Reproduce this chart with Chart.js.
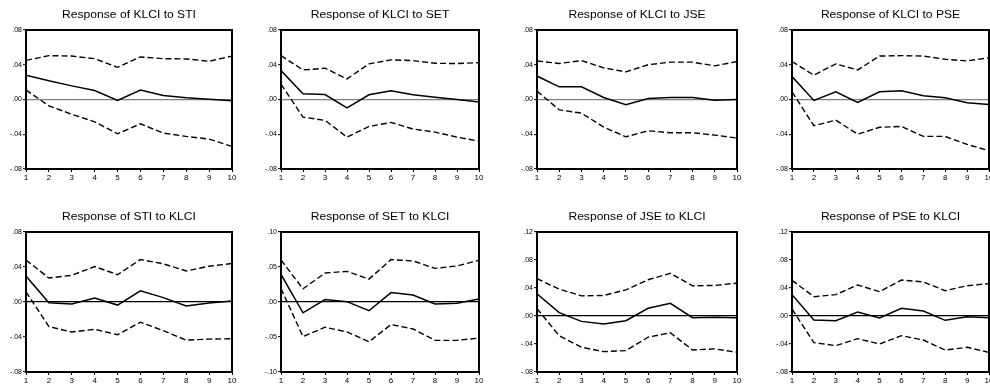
<!DOCTYPE html>
<html>
<head>
<meta charset="utf-8">
<script src="https://cdn.jsdelivr.net/npm/chart.js@4"></script>
<style>
    html, body { margin: 0; padding: 0; background: #fff; overflow: hidden; width: 990px; height: 387px; position: relative; }
    canvas { position: absolute; }
</style>
</head>
<body>
<script>
// horizon (periods after the shock)
const periods = [1, 2, 3, 4, 5, 6, 7, 8, 9, 10];

// impulse responses: point estimate, upper and lower +/- 2 S.E. bands
const klciStiResp = [0.028, 0.0215, 0.0157, 0.0103, -0.001, 0.011, 0.0046, 0.002, 0.0004, -0.0015];
const klciStiHi   = [0.045, 0.0505, 0.050, 0.047, 0.037, 0.049, 0.047, 0.0467, 0.044, 0.050];
const klciStiLo   = [0.011, -0.0073, -0.017, -0.0257, -0.0395, -0.028, -0.0387, -0.0425, -0.0456, -0.054];

const klciSetResp = [0.0333, 0.0065, 0.0057, -0.0096, 0.0054, 0.010, 0.0054, 0.0027, 0.0, -0.003];
const klciSetHi   = [0.0505, 0.034, 0.036, 0.0237, 0.041, 0.0456, 0.0448, 0.0417, 0.0414, 0.0425];
const klciSetLo   = [0.0176, -0.0203, -0.024, -0.0433, -0.031, -0.0264, -0.034, -0.0375, -0.0433, -0.048];

const klciJseResp = [0.027, 0.0146, 0.0146, 0.0023, -0.006, 0.0011, 0.0023, 0.0023, -0.0008, 0.0];
const klciJseHi   = [0.0444, 0.0414, 0.0448, 0.0364, 0.0318, 0.040, 0.043, 0.043, 0.0387, 0.0437];
const klciJseLo   = [0.0096, -0.0119, -0.0157, -0.0318, -0.0429, -0.036, -0.0383, -0.0383, -0.041, -0.0444];

const klciPseResp = [0.0264, -0.0011, 0.0088, -0.0034, 0.0088, 0.010, 0.0042, 0.0019, -0.0038, -0.0057];
const klciPseHi   = [0.0437, 0.028, 0.041, 0.034, 0.050, 0.0505, 0.050, 0.0463, 0.0444, 0.048];
const klciPseLo   = [0.0088, -0.0302, -0.0237, -0.040, -0.032, -0.031, -0.0425, -0.0425, -0.0517, -0.059];

const stiKlciResp = [0.0297, -0.0008, -0.0023, 0.0046, -0.0035, 0.0127, 0.005, -0.0046, -0.0012, 0.0012];
const stiKlciHi   = [0.048, 0.0274, 0.0305, 0.0405, 0.0312, 0.0486, 0.0436, 0.0355, 0.0409, 0.044];
const stiKlciLo   = [0.0116, -0.0281, -0.0343, -0.0312, -0.0374, -0.0231, -0.0328, -0.0436, -0.0424, -0.042];

const setKlciResp = [0.0394, -0.0154, 0.0034, 0.0005, -0.0125, 0.0135, 0.010, -0.0029, -0.0019, 0.0043];
const setKlciHi   = [0.060, 0.0188, 0.0414, 0.0438, 0.0327, 0.0606, 0.0587, 0.048, 0.0515, 0.0596];
const setKlciLo   = [0.0192, -0.0495, -0.036, -0.0428, -0.0568, -0.0322, -0.0385, -0.0548, -0.0548, -0.0515];

const jseKlciResp = [0.0317, 0.0048, -0.0077, -0.0115, -0.0067, 0.011, 0.0182, -0.0024, -0.0019, -0.0024];
const jseKlciHi   = [0.0533, 0.0384, 0.0288, 0.0293, 0.0374, 0.0518, 0.061, 0.0432, 0.0437, 0.047];
const jseKlciLo   = [0.0106, -0.0283, -0.0446, -0.0509, -0.0494, -0.0302, -0.024, -0.0485, -0.047, -0.0518];

const pseKlciResp = [0.0305, -0.0057, -0.0067, 0.0057, -0.0029, 0.011, 0.0071, -0.0062, -0.001, -0.0024];
const pseKlciHi   = [0.051, 0.0276, 0.0305, 0.0443, 0.0348, 0.0514, 0.0486, 0.0362, 0.0433, 0.0462];
const pseKlciLo   = [0.010, -0.038, -0.0424, -0.0324, -0.040, -0.0281, -0.0343, -0.0486, -0.0447, -0.052];

// y axis ranges (min, max, step) per panel
const yRanges = [
    [-0.08, 0.08, 0.04], [-0.08, 0.08, 0.04], [-0.08, 0.08, 0.04], [-0.08, 0.08, 0.04],
    [-0.08, 0.08, 0.04], [-0.10, 0.10, 0.05], [-0.08, 0.12, 0.04], [-0.08, 0.12, 0.04]
];

const panels = [
    { title: 'Response of KLCI to STI', resp: klciStiResp, hi: klciStiHi, lo: klciStiLo, box: [26, 30, 232, 169], row: 0 },
    { title: 'Response of KLCI to SET', resp: klciSetResp, hi: klciSetHi, lo: klciSetLo, box: [281, 30, 479, 169], row: 0 },
    { title: 'Response of KLCI to JSE', resp: klciJseResp, hi: klciJseHi, lo: klciJseLo, box: [537, 30, 737, 169], row: 0 },
    { title: 'Response of KLCI to PSE', resp: klciPseResp, hi: klciPseHi, lo: klciPseLo, box: [792, 30, 989, 169], row: 0 },
    { title: 'Response of STI to KLCI', resp: stiKlciResp, hi: stiKlciHi, lo: stiKlciLo, box: [26, 232, 232, 372], row: 1 },
    { title: 'Response of SET to KLCI', resp: setKlciResp, hi: setKlciHi, lo: setKlciLo, box: [281, 232, 479, 372], row: 1 },
    { title: 'Response of JSE to KLCI', resp: jseKlciResp, hi: jseKlciHi, lo: jseKlciLo, box: [537, 232, 737, 372], row: 1 },
    { title: 'Response of PSE to KLCI', resp: pseKlciResp, hi: pseKlciHi, lo: pseKlciLo, box: [792, 232, 989, 372], row: 1 }
];

const rows = [
    { top: 0, height: 190, titleY: 15, zeroColor: '#808080' },
    { top: 190, height: 197, titleY: 27, zeroColor: '#000000' }
];

const FONT = '"Liberation Sans", Arial, sans-serif';
const Y_AXIS_W = 35;
const RIGHT_PAD = 6;

// draws the panel title and the box round the plot area
const panelDecor = {
    id: 'panelDecor',
    afterDatasetsDraw(chart, args, opts) {
        const a = chart.chartArea;
        const ctx = chart.ctx;
        ctx.save();
        ctx.strokeStyle = '#000';
        ctx.lineWidth = 2;
        ctx.strokeRect(a.left, a.top, a.right - a.left, a.bottom - a.top);
        ctx.fillStyle = '#000';
        ctx.font = '11px ' + FONT;
        ctx.textAlign = 'center';
        ctx.textBaseline = 'middle';
        const cx = (a.left + a.right) / 2;
        ctx.translate(cx, opts.y);
        ctx.scale(1.1, 1);
        ctx.fillText(opts.text, 0, 0);
        ctx.restore();
    }
};

function fmtTick(v) {
    if (Math.abs(v) < 1e-9) return '.00';
    return v.toFixed(2).replace('0.', '.');
}

function toPoints(arr) {
    return periods.map((p, i) => ({ x: p, y: arr[i] }));
}

panels.forEach((p, idx) => {
    const row = rows[p.row];
    const [l, t, r, b] = p.box;
    const [yMin, yMax, yStep] = yRanges[idx];

    const canvas = document.createElement('canvas');
    const w = r - l + Y_AXIS_W + RIGHT_PAD;
    canvas.width = w;
    canvas.height = row.height;
    canvas.style.left = (l - Y_AXIS_W) + 'px';
    canvas.style.top = row.top + 'px';
    canvas.style.width = w + 'px';
    canvas.style.height = row.height + 'px';
    document.body.appendChild(canvas);

    const dashed = { borderColor: '#000', borderWidth: 1.4, borderDash: [6, 3], pointRadius: 0, fill: false, tension: 0 };

    new Chart(canvas.getContext('2d'), {
        type: 'line',
        data: {
            datasets: [
                Object.assign({ label: 'upper', data: toPoints(p.hi) }, dashed),
                Object.assign({ label: 'lower', data: toPoints(p.lo) }, dashed),
                { label: 'response', data: toPoints(p.resp), borderColor: '#000', borderWidth: 1.5, pointRadius: 0, fill: false, tension: 0 }
            ]
        },
        options: {
            responsive: false,
            animation: false,
            layout: { padding: { top: t - row.top, right: RIGHT_PAD, left: 0, bottom: 0 } },
            plugins: {
                legend: { display: false },
                tooltip: { enabled: false },
                panelDecor: { text: p.title, y: row.titleY }
            },
            scales: {
                x: {
                    type: 'linear',
                    min: 1,
                    max: 10,
                    afterFit: function(s) { s.height = row.top + row.height - b; },
                    border: { display: false },
                    grid: { drawOnChartArea: false, tickLength: 3, tickColor: '#000', tickWidth: 1 },
                    ticks: { stepSize: 1, padding: 1, color: '#000', font: { family: FONT, size: 8 }, maxRotation: 0, autoSkip: false }
                },
                y: {
                    min: yMin,
                    max: yMax,
                    afterFit: function(s) { s.width = Y_AXIS_W; },
                    border: { display: false },
                    grid: {
                        drawOnChartArea: true,
                        color: ctx => (ctx.tick && Math.abs(ctx.tick.value) < 1e-9) ? row.zeroColor : 'rgba(0,0,0,0)',
                        lineWidth: 1.3,
                        tickLength: 3,
                        tickColor: '#000',
                        tickWidth: 1
                    },
                    ticks: { stepSize: yStep, padding: 1, color: '#000', font: { family: FONT, size: 7 }, callback: fmtTick }
                }
            }
        },
        plugins: [panelDecor]
    });
});
</script>
</body>
</html>
